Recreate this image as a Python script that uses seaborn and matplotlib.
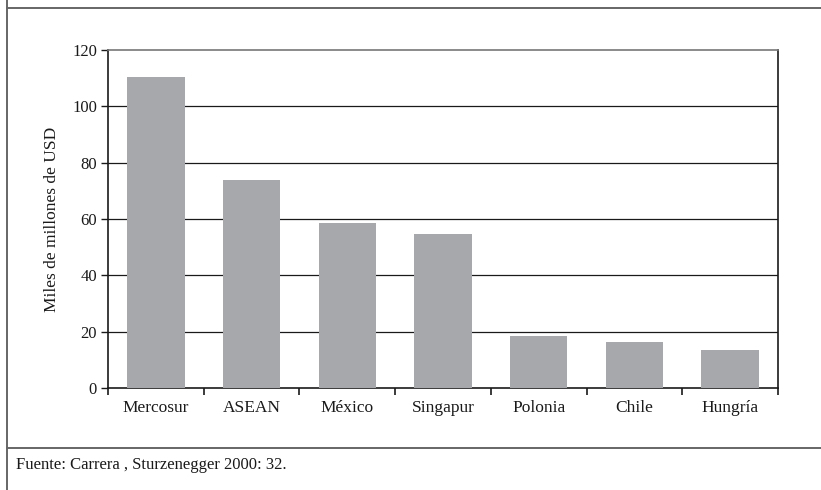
import numpy as np
import pandas as pd
import matplotlib
matplotlib.use("Agg")
import matplotlib.pyplot as plt
import seaborn as sns
from matplotlib.lines import Line2D
from matplotlib.ticker import FixedLocator

# Datos (miles de millones de USD)
regiones = ['Mercosur', 'ASEAN', 'México', 'Singapur', 'Polonia', 'Chile', 'Hungría']
valores = [110.4, 73.8, 58.6, 54.7, 18.5, 16.3, 13.5]
yticks = [0, 20, 40, 60, 80, 100, 120]

df = pd.DataFrame({'region': regiones, 'valor': valores})

sns.set_theme(style="white")
plt.rcParams['font.family'] = ['Liberation Serif', 'DejaVu Serif']

fig = plt.figure(figsize=(8.21, 4.90), dpi=100)
ax = fig.add_axes([108 / 821, 1 - 388 / 490, 670 / 821, 338 / 490])

sns.barplot(data=df, x='region', y='valor', color='#a7a8ab', saturation=1,
            width=0.6, linewidth=0, edgecolor='none', ax=ax, zorder=3)

ax.set_ylim(0, 120)
ax.set_xlim(-0.5, len(regiones) - 0.5)
ax.set_yticks(yticks)
for y in yticks[1:-1]:
    ax.axhline(y, color='#1a1a1a', lw=0.9, zorder=1)

ax.set_xlabel('')
ax.set_ylabel('Miles de millones de USD', fontsize=12.5, color='#1a1a1a', labelpad=9)

ax.tick_params(axis='x', which='major', length=0, labelsize=12.5, pad=9, colors='#1a1a1a')
ax.xaxis.set_minor_locator(FixedLocator(np.arange(-0.5, len(regiones), 1.0)))
ax.tick_params(axis='x', which='minor', bottom=True, length=5, width=1.2, direction='out', color='#1a1a1a')
ax.tick_params(axis='y', left=True, length=5, width=1.0, direction='out', labelsize=12, pad=3,
               colors='#1a1a1a')

for s in ['left', 'right', 'bottom']:
    ax.spines[s].set_color('#1a1a1a')
    ax.spines[s].set_linewidth(1.2)
ax.spines['top'].set_color('#777777')
ax.spines['top'].set_linewidth(1.2)

# Marco exterior
marco = '#666666'
fig.add_artist(Line2D([7 / 821, 7 / 821], [0, 1], color=marco, lw=1.4, transform=fig.transFigure))
fig.add_artist(Line2D([7 / 821, 1], [1 - 8 / 490, 1 - 8 / 490], color=marco, lw=1.4, transform=fig.transFigure))
fig.add_artist(Line2D([7 / 821, 1], [1 - 448 / 490, 1 - 448 / 490], color=marco, lw=1.4, transform=fig.transFigure))

fig.text(16 / 821, 1 - 465 / 490, 'Fuente: Carrera , Sturzenegger 2000: 32.', fontsize=12,
         va='center', ha='left', color='#1a1a1a')

fig.savefig('out.png', dpi=100)
